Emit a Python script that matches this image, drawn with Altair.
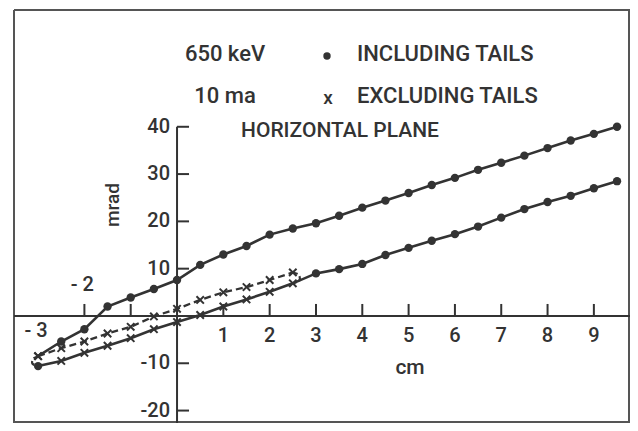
import altair as alt
import pandas as pd

# ---------------- data ----------------
# Including tails: upper branch (dots, solid)
up_x = [-3.0, -2.5, -2.0, -1.5, -1.0, -0.5, 0.0, 0.5, 1.0, 1.5, 2.0, 2.5, 3.0, 3.5,
        4.0, 4.5, 5.0, 5.5, 6.0, 6.5, 7.0, 7.5, 8.0, 8.5, 9.0, 9.5]
up_y = [-8.5, -5.4, -2.8, 2.0, 3.9, 5.7, 7.6, 10.8, 13.0, 14.8, 17.2, 18.5, 19.6, 21.2,
        22.9, 24.4, 26.0, 27.7, 29.2, 30.9, 32.4, 33.9, 35.5, 37.1, 38.5, 40.0]
up_m = ["x"] + ["dot"] * 25

# lower branch (solid): crosses up to 2.5 cm, dots beyond
lo_x = [-3.0, -2.5, -2.0, -1.5, -1.0, -0.5, 0.0, 0.5, 1.0, 1.5, 2.0, 2.5, 3.0, 3.5,
        4.0, 4.5, 5.0, 5.5, 6.0, 6.5, 7.0, 7.5, 8.0, 8.5, 9.0, 9.5]
lo_y = [-10.6, -9.5, -7.8, -6.3, -4.7, -2.8, -1.3, 0.2, 2.0, 3.5, 5.1, 6.9, 9.0, 9.9,
        11.0, 12.9, 14.4, 15.9, 17.3, 18.9, 20.8, 22.6, 24.1, 25.4, 27.0, 28.5]
lo_m = ["dot"] + ["x"] * 11 + ["dot"] * 14

# Excluding tails: upper branch (crosses, dashed)
ex_x = [-3.0, -2.5, -2.0, -1.5, -1.0, -0.5, 0.0, 0.5, 1.0, 1.5, 2.0, 2.5]
ex_y = [-8.5, -6.8, -5.4, -3.7, -2.3, -0.1, 1.5, 3.4, 5.0, 6.1, 7.6, 9.2]
ex_m = ["x"] * 12

# closing ends of the ellipses
lc_x = [-3.0, -3.11, -3.12, -3.0]
lc_y = [-8.5, -9.1, -10.1, -10.6]
rc_x = [2.5, 2.63, 2.64, 2.5]
rc_y = [9.2, 8.7, 7.5, 6.9]

xtick_vals = [-2, -1, 1, 2, 3, 4, 5, 6, 7, 8, 9]
xlab_vals = [1, 2, 3, 4, 5, 6, 7, 8, 9]
xlab_text = ["1", "2", "3", "4", "5", "6", "7", "8", "9"]
ytick_vals = [40, 30, 20, 10, -10, -20]
ylab_text = ["40", "30", "20", "10", "-10", "-20"]

# ---------------- frames ----------------
up = pd.DataFrame({"x": up_x, "y": up_y, "m": up_m})
lo = pd.DataFrame({"x": lo_x, "y": lo_y, "m": lo_m})
ex = pd.DataFrame({"x": ex_x, "y": ex_y, "m": ex_m})
curls = pd.DataFrame({
    "x": lc_x + rc_x, "y": lc_y + rc_y,
    "side": ["L"] * 4 + ["R"] * 4, "i": list(range(4)) * 2,
})
pts = pd.concat([up, lo, ex], ignore_index=True)
xt = pd.DataFrame({"x": xtick_vals, "y": [0] * len(xtick_vals)})
xl = pd.DataFrame({"x": xlab_vals, "y": [0] * len(xlab_vals), "t": xlab_text})
yt = pd.DataFrame({"x": [0] * len(ytick_vals), "y": ytick_vals, "t": ylab_text})

INK = "#333333"
FONT = "Roboto, Liberation Sans, sans-serif"
FW = 500
W, H = 616, 413
XDOM = [-3.52, 9.78]
YDOM = [-22.63, 64.69]

xs = alt.Scale(domain=XDOM, nice=False, zero=False)
ys = alt.Scale(domain=YDOM, nice=False, zero=False)
X = alt.X("x:Q", scale=xs, axis=None)
Y = alt.Y("y:Q", scale=ys, axis=None)

upper_line = alt.Chart(up).mark_line(color=INK, strokeWidth=2.6).encode(x=X, y=Y)
lower_line = alt.Chart(lo).mark_line(color=INK, strokeWidth=2.6).encode(x=X, y=Y)
dash_line = alt.Chart(ex).mark_line(color=INK, strokeWidth=2.3, strokeDash=[7, 4]).encode(x=X, y=Y)
curl_line = alt.Chart(curls).mark_line(
    color=INK, strokeWidth=2.2, strokeDash=[5, 3], interpolate="cardinal"
).encode(x=X, y=Y, detail="side:N", order="i:Q")

dots = alt.Chart(pts).transform_filter(alt.datum.m == "dot").mark_point(
    shape="circle", filled=True, color=INK, size=70, opacity=1
).encode(x=X, y=Y)
crosses = alt.Chart(pts).transform_filter(alt.datum.m == "x").mark_point(
    shape="M-1,-1L1,1M-1,1L1,-1", filled=False, color=INK, size=55,
    strokeWidth=2, opacity=1
).encode(x=X, y=Y)

# axes through the origin
x_axis = alt.Chart(xt).mark_rule(color=INK, strokeWidth=2).encode(
    x=alt.value(0), x2=alt.value(W),
    y=alt.Y("y:Q", scale=ys, axis=None, aggregate="min"),
)
y_axis = alt.Chart(yt).mark_rule(color=INK, strokeWidth=2).encode(
    x=alt.X("x:Q", scale=xs, axis=None, aggregate="min"),
    y=alt.Y("y:Q", scale=ys, axis=None, aggregate="max"),
    y2=alt.value(H),
)
x_ticks = alt.Chart(xt).mark_tick(orient="vertical", size=12, thickness=2, color=INK,
                                  yOffset=-6, opacity=1).encode(x=X, y=Y)
y_ticks = alt.Chart(yt).mark_tick(orient="horizontal", size=12, thickness=2, color=INK,
                                  xOffset=6, opacity=1).encode(x=X, y=Y)

x_labels = alt.Chart(xl).mark_text(font=FONT, fontSize=20, fontWeight=FW, color=INK, dy=20,
                                   baseline="middle").encode(x=X, y=Y, text="t:N")
y_labels = alt.Chart(yt).mark_text(font=FONT, fontSize=20, fontWeight=FW, color=INK, dx=-7,
                                   align="right", baseline="middle").encode(x=X, y=Y, text="t:N")
m2 = alt.Chart(xt).transform_filter(alt.datum.x == -2).mark_text(
    text="- 2", font=FONT, fontSize=20, fontWeight=FW, color=INK, dy=-31, dx=-2,
    baseline="middle"
).encode(x=X, y=Y)
m3 = alt.Chart(lo).transform_filter(alt.datum.x == -3).mark_text(
    text="- 3", font=FONT, fontSize=20, fontWeight=FW, color=INK, baseline="middle"
).encode(x=X, y=alt.value(305 + 16), xOffset=alt.value(-2))


def label(txt, px, py, align="center", size=22, angle=0):
    return alt.Chart(up).transform_filter(alt.datum.x == 0).mark_text(
        text=txt, font=FONT, fontSize=size, fontWeight=FW, color=INK, align=align,
        baseline="middle", angle=angle
    ).encode(x=alt.value(px), y=alt.value(py))


texts = [
    label("650 keV", 211, 44),
    label("INCLUDING TAILS", 343, 44, align="left"),
    label("10 ma", 211, 86),
    label("EXCLUDING TAILS", 343, 86, align="left"),
    label("x", 314, 88, size=19),
    label("HORIZONTAL PLANE", 326, 121, size=21),
    label("cm", 396, 358, size=21),
    label("mrad", 99, 195, angle=270, size=19),
]
legend_dot = alt.Chart(up).transform_filter(alt.datum.x == 0).mark_point(
    shape="circle", filled=True, color=INK, size=55, opacity=1
).encode(x=alt.value(313), y=alt.value(46))

frame = alt.Chart(up).transform_filter(alt.datum.x == 0).mark_rule(
    color="#555", strokeWidth=2
)
frame_l = frame.encode(x=alt.value(0), y=alt.value(0), y2=alt.value(H))
frame_t = frame.encode(x=alt.value(0), x2=alt.value(W), y=alt.value(0))
frame_r = frame.encode(x=alt.value(W - 1), y=alt.value(0), y2=alt.value(H))
frame_b = frame.encode(x=alt.value(0), x2=alt.value(W), y=alt.value(H - 1))

chart = alt.layer(
    frame_l, frame_t, frame_r, frame_b,
    x_axis, y_axis, x_ticks, y_ticks, x_labels, y_labels, m2, m3,
    upper_line, lower_line, dash_line, curl_line, dots, crosses,
    legend_dot, *texts,
).properties(
    width=W, height=H,
    autosize=alt.AutoSizeParams(type="none"),
    padding={"left": 6, "top": 2, "right": 0, "bottom": 0},
    background="white",
).configure_view(stroke=None)

chart.save("out.html", embed_options={"renderer": "svg", "actions": False})
